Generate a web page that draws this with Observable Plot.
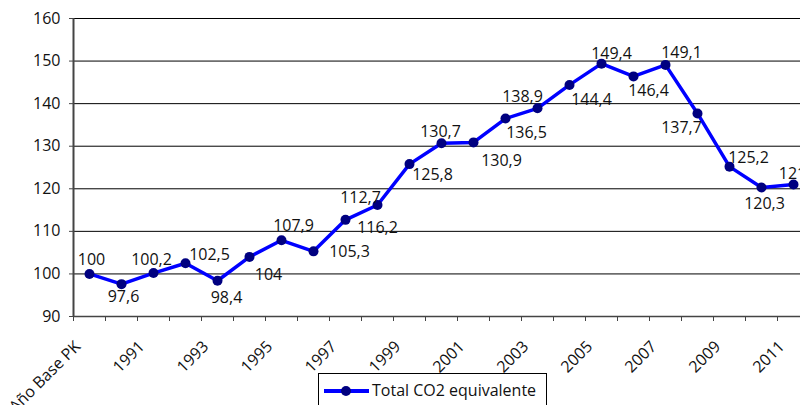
<!DOCTYPE html>
<html><head><meta charset="utf-8">
<script src="https://cdn.jsdelivr.net/npm/d3@7"></script>
<script src="https://cdn.jsdelivr.net/npm/@observablehq/plot@0.6"></script>
<style>
html,body{margin:0;padding:0;background:#fff;overflow:hidden}
#wrap{position:relative;width:800px;height:405px;overflow:hidden;font-family:"Open Sans",sans-serif;color:#111}
#legend{position:absolute;left:318px;top:373px;width:229px;height:40px;border:1px solid #000;background:#fff;box-sizing:border-box}
#legend svg{position:absolute;left:4px;top:8px}
#legend span{position:absolute;left:53px;top:5px;font-size:16px;line-height:22px;white-space:nowrap}
</style></head><body>
<div id="wrap"><div id="chart"></div>
<div id="legend"><svg width="48" height="20"><line x1="1" y1="9" x2="46" y2="9" stroke="#0000ff" stroke-width="4"/><circle cx="23" cy="9" r="5" fill="#000080"/></svg><span>Total CO2 equivalente</span></div>
</div>
<script>
const categories = ["Año Base PK","1990","1991","1992","1993","1994","1995","1996","1997","1998","1999","2000","2001","2002","2003","2004","2005","2006","2007","2008","2009","2010","2011"];
const values = [100,97.6,100.2,102.5,98.4,104,107.9,105.3,112.7,116.2,125.8,130.7,130.9,136.5,138.9,144.4,149.4,146.4,149.1,137.7,125.2,120.3,121];
const tickLabels = ["Año Base PK","1991","1993","1995","1997","1999","2001","2003","2005","2007","2009","2011"];
const yTicks = [90,100,110,120,130,140,150,160];
const seriesName = "Total CO2 equivalente";

// label placement offsets (layout only)
const labelDx = [2,2,-2,24,9,19,12,36,15,0,23,-1,28,21,-15,22,10,15,16,-16,19,3,-1];
const labelDy = [-14,13,-13,-8,17,18,-14,1,-22,23,11,-11,18,14,-11,15,-10,14,-12,14,-9,16,-11];

const data = categories.map((c, i) => ({cat: c, value: values[i]}));
const fmt = v => String(v).replace(".", ",");
const font = "Open Sans";
const FS = 16;

const labelMarks = data.map((d, i) => Plot.text([d], {
  x: "cat", y: "value", text: d => fmt(d.value),
  dx: labelDx[i], dy: labelDy[i], fontSize: FS, fill: "#111", textAnchor: "middle"
}));

const chart = Plot.plot({
  width: 800, height: 405,
  marginLeft: 73, marginRight: 0, marginTop: 18, marginBottom: 89,
  style: {fontFamily: font, fontSize: FS + "px", background: "#fff", color: "#111"},
  x: {type: "point", domain: categories, range: [73, 809], padding: 0.5},
  y: {domain: [90, 160]},
  marks: [
    Plot.gridY(yTicks.slice(1), {stroke: "#000", strokeOpacity: 1, strokeWidth: 1}),
    Plot.ruleY([90], {stroke: "#444", strokeWidth: 1.5}),
    Plot.axisX(categories, {tickSize: 5, tickFormat: () => "", dx: -16, stroke: "#444", label: null}),
    Plot.ruleX(categories.slice(0, 1), {x: d => d, dx: -16, stroke: "#444", strokeWidth: 2}),
    Plot.axisY(yTicks, {tickSize: 4, tickPadding: 9, fontSize: FS, fill: "#111", stroke: "#444", label: null}),
    Plot.text(tickLabels, {x: d => d, frameAnchor: "bottom", dy: 31, dx: -8, rotate: -45, textAnchor: "end", fontSize: FS, fill: "#111"}),
    Plot.line(data, {x: "cat", y: "value", stroke: "#0000ff", strokeWidth: 3.5}),
    Plot.dot(data, {x: "cat", y: "value", r: 5, fill: "#000080"}),
    ...labelMarks
  ]
});
document.getElementById("chart").appendChild(chart);
document.querySelector("#legend span").textContent = seriesName;
</script>
</body></html>
